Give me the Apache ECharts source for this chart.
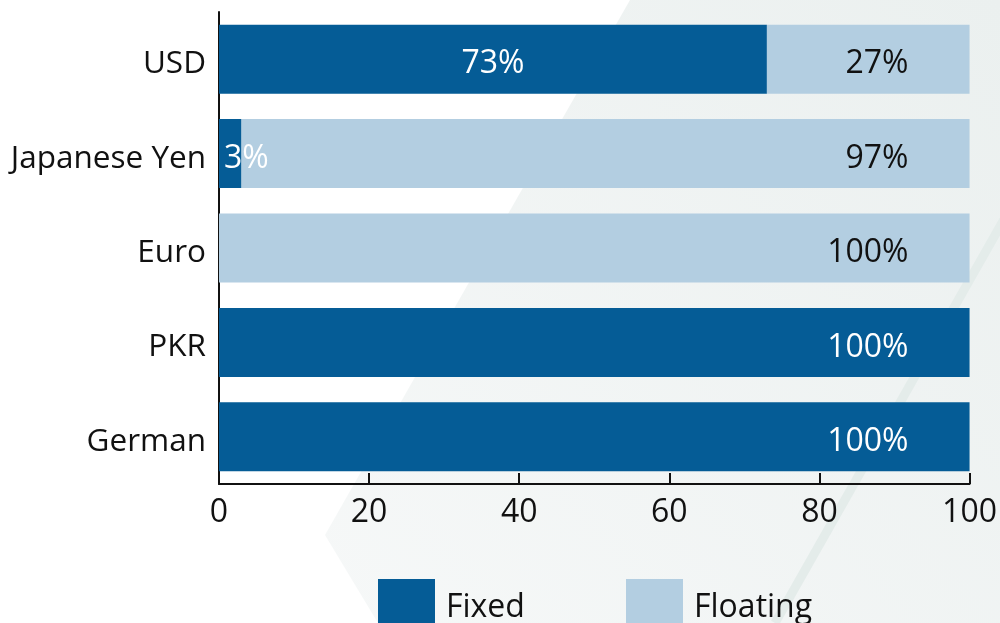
<!DOCTYPE html>
<html>
<head>
<meta charset="utf-8">
<style>
  html, body { margin: 0; padding: 0; background: #ffffff; }
  #chart { width: 1000px; height: 623px; }
</style>
<script src="https://cdn.jsdelivr.net/npm/echarts@6/dist/echarts.min.js"></script>
</head>
<body>
<div id="chart"></div>
<script>
// Share of debt by interest type, per currency (percent)
const currencies = ['USD', 'Japanese Yen', 'Euro', 'PKR', 'German'];
const fixedShare = [73, 3, 0, 100, 100];
const floatingShare = [27, 97, 100, 0, 0];
const xTicks = [0, 20, 40, 60, 80, 100];

const FONT = '"Open Sans", "Noto Sans", sans-serif';
const FIXED_COLOR = '#055c96';
const FLOAT_COLOR = '#b3cee1';

// Label placement: full-width bars get their label near the right end,
// slivers get it at the left edge, everything else centred.
function labelFor(value, textColor) {
  if (value === 0) return { show: false };
  if (value >= 90) return { show: true, position: 'insideRight', distance: 61, color: textColor };
  if (value < 10) return { show: true, position: 'insideLeft', distance: 5, color: textColor };
  return { show: true, position: 'inside', color: textColor };
}

const fixedData = fixedShare.map(v => ({ value: v, label: labelFor(v, '#ffffff') }));
const floatingData = floatingShare.map(v => ({
  value: v,
  label: v === 0 ? { show: false } : { show: true, position: 'insideRight', distance: 61, color: '#111111' }
}));

const chart = echarts.init(document.getElementById('chart'), null, { renderer: 'canvas' });

chart.setOption({
  backgroundColor: '#ffffff',
  animation: false,
  textStyle: { fontFamily: FONT },
  graphic: [
    {
      type: 'polygon',
      z: -10,
      silent: true,
      shape: { points: [[630, 0], [1000, 0], [1000, 623], [378, 623], [325, 535]] },
      style: {
        fill: new echarts.graphic.LinearGradient(1, 0, 0, 1, [
          { offset: 0, color: '#ebf0ef' },
          { offset: 1, color: '#f6f8f8' }
        ])
      }
    },
    {
      type: 'line',
      z: -9,
      silent: true,
      shape: { x1: 1015, y1: 200, x2: 775, y2: 623 },
      style: { stroke: '#e4ecea', lineWidth: 9 }
    }
  ],
  legend: [
    {
      data: ['Fixed'],
      left: 378,
      top: 579,
      itemWidth: 57,
      itemHeight: 58,
      icon: 'rect',
      padding: 0,
      textStyle: { fontSize: 32, color: '#111111', fontFamily: FONT, padding: [0, 0, 0, 6] }
    },
    {
      data: ['Floating'],
      left: 626,
      top: 579,
      itemWidth: 57,
      itemHeight: 58,
      icon: 'rect',
      padding: 0,
      textStyle: { fontSize: 32, color: '#111111', fontFamily: FONT, padding: [0, 0, 0, 6] }
    }
  ],
  grid: { left: 219, right: 27, top: 12, bottom: 139 },
  xAxis: {
    type: 'value',
    min: 0,
    max: 100,
    interval: 20,
    splitLine: { show: false },
    axisLine: { show: true, lineStyle: { color: '#111111', width: 2 } },
    axisTick: { show: true, inside: true, length: 11, lineStyle: { color: '#111111', width: 2 } },
    axisLabel: {
      fontSize: 32,
      color: '#111111',
      fontFamily: FONT,
      margin: 13,
      formatter: v => (xTicks.includes(v) ? String(v) : '')
    }
  },
  yAxis: {
    type: 'category',
    inverse: true,
    data: currencies,
    axisLine: { show: true, lineStyle: { color: '#111111', width: 2 } },
    axisTick: { show: false },
    axisLabel: {
      color: '#111111',
      margin: 13,
      formatter: v => '{cat|' + v + '}',
      rich: {
        cat: {
          fontSize: 31.5,
          fontFamily: FONT,
          color: '#111111',
          padding: [10, 0, 0, 0]
        }
      }
    }
  },
  series: [
    {
      name: 'Fixed',
      type: 'bar',
      stack: 'share',
      barWidth: 69,
      itemStyle: { color: FIXED_COLOR },
      label: { fontSize: 32, fontFamily: FONT, formatter: '{c}%', offset: [0, 5] },
      data: fixedData
    },
    {
      name: 'Floating',
      type: 'bar',
      stack: 'share',
      barWidth: 69,
      itemStyle: { color: FLOAT_COLOR },
      label: { fontSize: 32, fontFamily: FONT, formatter: '{c}%', offset: [0, 5] },
      data: floatingData
    }
  ]
});
</script>
</body>
</html>
